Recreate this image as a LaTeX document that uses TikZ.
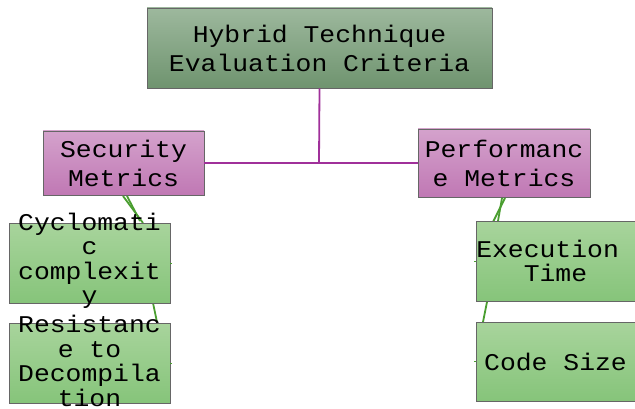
\documentclass[tikz,border=0pt]{standalone}
\usepackage{fontspec}
\setmonofont{Liberation Mono}[FakeStretch=1.1]
\begin{document}
\begin{tikzpicture}[x=1pt,y=-1pt,
  box/.style={draw=black!60, line width=0.6pt, inner sep=0pt},
  rootbox/.style={box, top color=rootTop, bottom color=rootBot},
  pinkbox/.style={box, top color=pinkTop, bottom color=pinkBot},
  greenbox/.style={box, top color=greenTop, bottom color=greenBot},
  txt/.style={inner sep=0pt, align=center, font=\ttfamily\fontsize{24}{29}\selectfont},
  gtxt/.style={inner sep=0pt, align=center, font=\ttfamily\fontsize{24}{24.5}\selectfont},
  purp/.style={draw=purpleLine, line width=1.8pt},
  grn/.style={draw=greenLine, line width=1.8pt}]
\definecolor{rootTop}{HTML}{9DB89D}
\definecolor{rootBot}{HTML}{6F946F}
\definecolor{pinkTop}{HTML}{D4A2CC}
\definecolor{pinkBot}{HTML}{C078B4}
\definecolor{greenTop}{HTML}{A8D49C}
\definecolor{greenBot}{HTML}{86C47A}
\definecolor{purpleLine}{HTML}{A0309A}
\definecolor{greenLine}{HTML}{4A9E30}
\useasboundingbox (0,0) rectangle (635,409);

\coordinate (jn) at (319,163);
\coordinate (s1) at (123,196);
\coordinate (s2) at (127,196);
\coordinate (c1) at (143,223);
\coordinate (c2) at (140,221);
\coordinate (c3) at (153,303);
\coordinate (r1) at (157,322);
\coordinate (p1) at (505,198);
\coordinate (p2) at (502,198);
\coordinate (e1) at (493,222);
\coordinate (e2) at (498,221);
\coordinate (e3) at (487,302);
\coordinate (k1) at (483,322);

\node[rootbox, minimum width=345pt, minimum height=80pt] (root) at (319.5,48) {};
\node[pinkbox, minimum width=161pt, minimum height=64pt] (sec) at (123.5,163) {};
\node[pinkbox, minimum width=172pt, minimum height=68pt] (perf) at (504,163) {};

\draw[purp] (root.south) -- (jn);
\draw[purp] (sec.east) -- (perf.west);

\draw[grn] (s1) -- (c1);
\draw[grn] (s2) -- (c2);
\draw[grn] (c3) -- (r1);
\draw[grn] (p1) -- (e1);
\draw[grn] (p2) -- (e2);
\draw[grn] (e3) -- (k1);

\node[greenbox, minimum width=161pt, minimum height=80pt] (cyc) at (89.5,263) {};
\node[greenbox, minimum width=161pt, minimum height=80pt] (res) at (89.5,363) {};
\node[greenbox, minimum width=159pt, minimum height=80pt] (exe) at (555.5,261) {};
\node[greenbox, minimum width=159pt, minimum height=79pt] (code) at (555.5,361.5) {};

\draw[grn, line width=1pt] (cyc.east) -- ++(2,0);
\draw[grn, line width=1pt] (res.east) -- ++(2,0);
\draw[grn, line width=1pt] (exe.west) -- ++(-2,0);
\draw[grn, line width=1pt] (code.west) -- ++(-2,0);

\node[txt] (rootT) at (root) {Hybrid Technique\\Evaluation Criteria};
\node[txt] (secT) at (sec) {Security\\Metrics};
\node[txt] (perfT) at (perf) {Performanc\\e Metrics};
\node[gtxt] (cycT) at ([yshift=2]cyc.center) {Cyclomati\\c\\complexit\\y};
\node[gtxt] (resT) at ([yshift=2]res.center) {Resistanc\\e to\\Decompila\\tion};
\node[gtxt] (exeT) at (exe) {Execution\hphantom{x}\\Time};
\node[gtxt] (codeT) at (code) {Code Size};
\end{tikzpicture}
\end{document}
